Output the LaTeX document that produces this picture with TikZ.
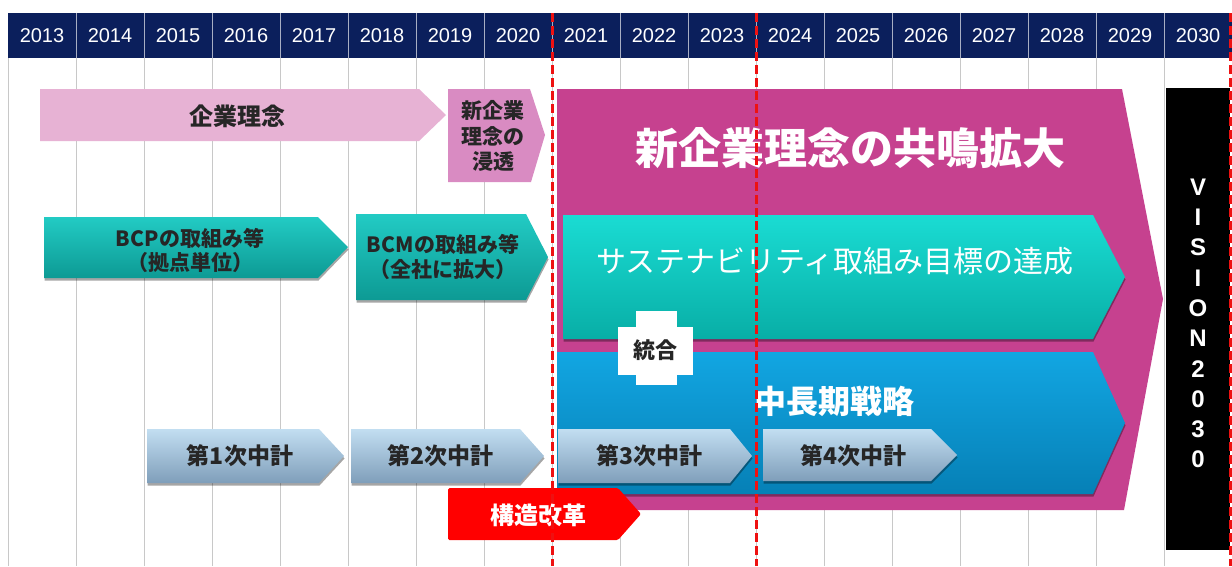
\documentclass[tikz,border=0pt]{standalone}
\usepackage{fontspec}
\setmainfont{Liberation Sans}
\newfontfamily\jp{Noto Sans CJK JP}
\usetikzlibrary{shadows}
\definecolor{navy}{HTML}{0B1F5C}
\definecolor{gridgray}{HTML}{C8C8C8}
\definecolor{hdrsep}{HTML}{A7AEC4}
\definecolor{pinkA}{HTML}{E7B2D4}
\definecolor{pinkB}{HTML}{D98BC2}
\definecolor{magentaC}{HTML}{C6418F}
\definecolor{tealTop}{HTML}{22CBC4}
\definecolor{tealBot}{HTML}{0D9A94}
\definecolor{cyanTop}{HTML}{1ADCD3}
\definecolor{cyanBot}{HTML}{08AEA6}
\definecolor{blueTop}{HTML}{12A6E2}
\definecolor{blueBot}{HTML}{0680B6}
\definecolor{planTop}{HTML}{C2DEF1}
\definecolor{planBot}{HTML}{7F9EBA}
\definecolor{darktext}{HTML}{262626}
\definecolor{redC}{HTML}{FF0000}
\definecolor{dashred}{HTML}{EE1111}
\tikzset{
  yeartxt/.style={text=white,font=\fontsize{20}{24}\selectfont},
  darklbl/.style={text=darktext,font=\jp\bfseries\fontsize{#1}{#1}\selectfont,align=center,inner sep=0pt},
  whitelbl/.style={text=white,font=\jp\bfseries\fontsize{#1}{#1}\selectfont,align=center,inner sep=0pt},
  softshadow/.style={drop shadow={shadow xshift=0.5pt,shadow yshift=-2.5pt,opacity=0.35,fill=black}},
  tealshape/.style={top color=tealTop,bottom color=tealBot,softshadow},
  planshape/.style={top color=planTop,bottom color=planBot,softshadow},
  reddash/.style={draw=dashred,line width=3pt,dash pattern=on 9pt off 4pt},
}
\begin{document}
\begin{tikzpicture}[x=1pt,y=-1pt]
\useasboundingbox (0,0) rectangle (1232,566);
\fill[white] (0,0) rectangle (1232,566);
% grid
\foreach \k in {0,...,18} \draw[gridgray,line width=1pt] ({8+68*\k},58) -- ({8+68*\k},566);
% header
\fill[navy] (8,13) rectangle (1232,58);
\foreach \k in {1,...,17} \draw[hdrsep,line width=1pt] ({8+68*\k},13) -- ({8+68*\k},58);
\foreach \k in {0,...,17} \node[yeartxt] (y\k) at ({42+68*\k},36) {\the\numexpr2013+\k\relax};

% corporate philosophy
\fill[pinkA] (40,89) -- (419,89) -- (446,115) -- (419,141) -- (40,141) -- cycle;
\node[darklbl=24] (kigyo) at (237,116) {企業理念};
\fill[pinkB] (448,89) -- (530,89) -- (545,135) -- (531,182) -- (448,182) -- cycle;
\node[darklbl=21,font=\jp\bfseries\fontsize{21}{25.5}\selectfont] (shintou) at (493,136) {新企業\\理念の\\浸透};

% BCP / BCM
\path[tealshape] (44,217) -- (318,217) -- (348,247) -- (318,278) -- (44,278) -- cycle;
\node[darklbl=21,font=\jp\bfseries\fontsize{21}{24}\selectfont] (bcp) at (190,250) {BCPの取組み等\\（拠点単位）};
\path[tealshape] (356,214) -- (526,214) -- (548,257) -- (526,300) -- (356,300) -- cycle;
\node[darklbl=21,font=\jp\bfseries\fontsize{21}{25}\selectfont] (bcm) at (443,257) {BCMの取組み等\\（全社に拡大）};

% big magenta arrow
\fill[magentaC] (557,89) -- (1122,89) -- (1163,299) -- (1124,510) -- (557,510) -- cycle;
\node[whitelbl=43] (kyomei) at (850,148) {新企業理念の共鳴拡大};

% sustainability
\path[top color=cyanTop,bottom color=cyanBot,softshadow] (563,215) -- (1093,215) -- (1125,277) -- (1093,339) -- (563,339) -- cycle;
\node[text=white,font=\jp\fontsize{30}{30}\selectfont,inner sep=0pt] (sustain) at (835,261) {サステナビリティ取組み目標の達成};

% mid-long term strategy
\path[top color=blueTop,bottom color=blueBot,softshadow] (557,352) -- (1093,352) -- (1125,423) -- (1093,494) -- (557,494) -- cycle;
\node[whitelbl=32] (chouki) at (834,401) {中長期戦略};

% integration cross
\fill[white] (636,311) rectangle (677,385);
\fill[white] (618,327) rectangle (693,375);
\node[darklbl=22] (tougou) at (655,350) {統合};

% mid-term plans
\path[planshape] (147,429) -- (319,429) -- (344,456) -- (319,483) -- (147,483) -- cycle;
\node[darklbl=23] (p1) at (240,456) {第1次中計};
\path[planshape] (351,429) -- (520,429) -- (544,456) -- (520,483) -- (351,483) -- cycle;
\node[darklbl=23] (p2) at (440,456) {第2次中計};
\path[planshape] (558,429) -- (730,429) -- (752,456) -- (730,483) -- (558,483) -- cycle;
\node[darklbl=23] (p3) at (649,456) {第3次中計};
\path[planshape] (763,429) -- (931,429) -- (957,455) -- (931,481) -- (763,481) -- cycle;
\node[darklbl=23] (p4) at (853,456) {第4次中計};

% structural reform
\fill[redC,rounded corners=1.5pt] (448,488) -- (618,488) -- (641,514) -- (618,540) -- (448,540) -- cycle;
\node[whitelbl=24] (kaikaku) at (538,515) {構造改革};

% VISION 2030
\fill[black] (1166,88) rectangle (1230,550);
\node[text=white,font=\bfseries\fontsize{24}{30.3}\selectfont,align=center,inner sep=0pt] (vision) at (1198,323.5) {V\\I\\S\\I\\O\\N\\2\\0\\3\\0};

% red dashed markers
\coordinate (d1t) at (552,13); \coordinate (d1b) at (552,566);
\coordinate (d2t) at (756,13); \coordinate (d2b) at (756,566);
\coordinate (d3t) at (1230,13); \coordinate (d3b) at (1230,566);
\draw[reddash] (d1t) -- (d1b);
\draw[reddash] (d2t) -- (d2b);
\draw[reddash] (d3t) -- (d3b);
\end{tikzpicture}
\end{document}
